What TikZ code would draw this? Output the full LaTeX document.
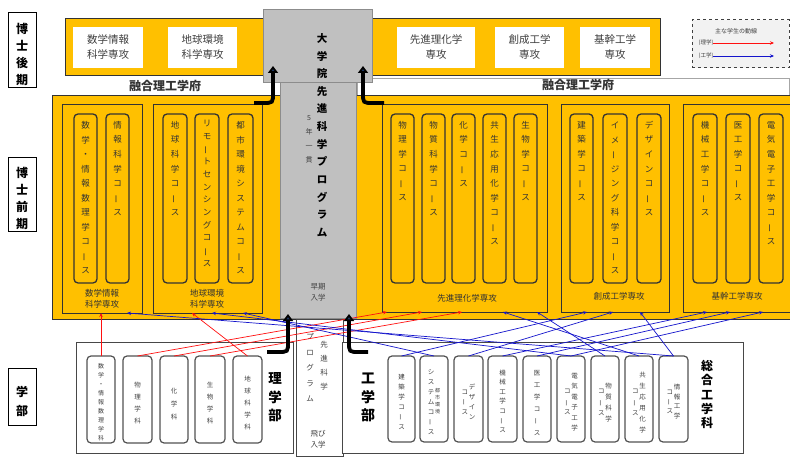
\documentclass[tikz,border=0pt]{standalone}
\usepackage{fontspec}
\setmainfont{Noto Sans CJK JP}
\usetikzlibrary{arrows.meta}
\definecolor{org}{HTML}{FFC000}
\definecolor{bd}{HTML}{333333}
\definecolor{txt}{HTML}{404040}
\definecolor{colgrey}{HTML}{C0C0C0}
\definecolor{colgreybd}{HTML}{8C8C8C}
\definecolor{rl}{HTML}{FF1010}
\definecolor{bl}{HTML}{1414CC}
\definecolor{navy}{HTML}{1F3864}
\newcommand\fs[2]{\fontsize{#1}{#2}\selectfont}
\makeatletter
\def\vt@choon{ー}
\newcommand\vt@put{\ifx\vt@c\vt@choon\rotatebox[origin=c]{90}{ー}\else\vt@c\fi}
\newcommand\vt[2][14.5]{\vbox{\offinterlineskip\@tfor\vt@c:=#2\do{\hbox to 1.05em{\hss\vrule width0pt height#1pt depth0pt\smash{\vt@put}\hss}}}}
\makeatother
\newcommand\vtwo[3][11]{$\vcenter{\hbox{\vt[#1]{#3}}}\kern0.5pt\vcenter{\hbox{\vt[#1]{#2}}}$}
\newcommand\bx[6][]{\node[#1, minimum width={#5pt-#3pt}, minimum height={#6pt-#4pt}] (#2) at ({(#3+#5)/2},{(#4+#6)/2}) {};}
\newcommand\bxt[7][]{\node[#1, minimum width={#5pt-#3pt}, minimum height={#6pt-#4pt}] (#2) at ({(#3+#5)/2},{(#4+#6)/2}) {#7};}
\begin{document}
\begin{tikzpicture}[x=1pt,y=-1pt,
 every node/.style={inner sep=0pt,outer sep=0pt},
 orgbox/.style={draw=bd, fill=org, line width=1pt},
 dept/.style={draw=bd, fill=org, line width=1pt},
 course/.style={draw=bd, fill=org, line width=1.3pt, rounded corners=4pt},
 ucourse/.style={draw=bd!85, fill=white, line width=1.2pt, rounded corners=4pt},
 wbox/.style={fill=white, align=center, text=txt, font=\fs{10.5}{15}},
 greybox/.style={fill=colgrey, draw=colgreybd, line width=0.8pt},
 lbl/.style={draw=black, line width=1pt, fill=white, text=black, font=\bfseries\fs{12}{12}},
 ctext/.style={text=bd, font=\fs{8.5}{8.5}},
 utext/.style={text=txt, font=\fs{6.5}{6.5}},
 dlabel/.style={text=bd, align=center, font=\fs{8.5}{11}},
 flabel/.style={text=bd, font=\bfseries\fs{12}{12}},
 ubox/.style={draw=bd!90, line width=1pt, fill=white},
 redl/.style={draw=rl, line width=0.7pt, -{Stealth[length=4pt,width=3.5pt]}},
 bluel/.style={draw=bl, line width=0.7pt, -{Stealth[length=4pt,width=3.5pt]}},
 bigarr/.style={line width=3.8pt, black, -{Triangle[width=10pt,length=7pt,fill=navy]}},
 legend/.style={draw=black!75, dashed, line width=1pt, fill=black!5}]
\useasboundingbox[fill=white] (0,0) rectangle (790,457);

% left level labels
\bxt[lbl]{L1}{8}{13}{36}{88}{\vt[17]{博士後期}}
\bxt[lbl]{L2}{8}{158}{36}{232}{\vt[17]{博士前期}}
\bxt[lbl]{L3}{8}{368}{36}{425}{\vt[19]{学部}}

% doctoral band
\bx[orgbox]{D}{65}{19}{660}{76}
\bxt[wbox]{D1}{73}{27}{143}{68}{数学情報\\科学専攻}
\bxt[wbox]{D2}{168}{27}{237}{68}{地球環境\\科学専攻}
\bxt[wbox]{D3}{397}{27}{475}{68}{先進理化学\\専攻}
\bxt[wbox]{D4}{495}{27}{564}{68}{創成工学\\専攻}
\bxt[wbox]{D5}{580}{27}{650}{68}{基幹工学\\専攻}

% legend
\bx[legend]{LG}{692}{20}{789}{68}
\node[text=txt, font=\fs{6}{6}] (LGt) at (736,31) {主な学生の動線};
\node[text=txt, font=\fs{5.5}{5.5}] (LGr) at (706,43) {(理学)};
\node[text=txt, font=\fs{5.5}{5.5}] (LGb) at (706,56) {(工学)};
\coordinate (LGre) at (774,43);
\coordinate (LGbe) at (774,56);
\draw[redl] (LGr.east) -- (LGre);
\draw[bluel] (LGb.east) -- (LGbe);

% white label band
\bx[draw=black!35, fill=white, line width=0.6pt]{WB}{357}{78}{789}{96}
\node[flabel] (F1) at (165,86) {融合理工学府};
\node[flabel] (F2) at (578,85) {融合理工学府};

% master level
\bx[orgbox]{M}{52}{96}{792}{319}
\bx[dept]{MA}{62}{105}{142}{313}
\bx[dept]{MB}{153}{105}{262}{313}
\bx[dept]{MC}{382}{105}{547}{312}
\bx[dept]{MD}{561}{105}{669}{312}
\bx[dept]{ME}{683}{105}{792}{312}

\bx[course]{MA1}{74}{114}{97}{283}
\bx[course]{MA2}{106}{114}{129}{283}
\bx[course]{MB1}{163}{114}{187}{283}
\bx[course]{MB2}{195}{114}{219}{283}
\bx[course]{MB3}{228}{114}{253}{283}
\bx[course]{MC1}{391}{114}{414}{283}
\bx[course]{MC2}{422}{114}{445}{283}
\bx[course]{MC3}{452}{114}{475}{283}
\bx[course]{MC4}{483}{114}{506}{283}
\bx[course]{MC5}{514}{114}{537}{283}
\bx[course]{MD1}{570}{114}{593}{283}
\bx[course]{MD2}{603}{114}{627}{283}
\bx[course]{MD3}{637}{114}{661}{283}
\bx[course]{ME1}{693}{114}{717}{283}
\bx[course]{ME2}{726}{114}{750}{283}
\bx[course]{ME3}{759}{114}{783}{283}

\node[ctext, anchor=north] (MA1t) at (MA1.north) {\vt{数学・情報数理学コース}};
\node[ctext, anchor=north] (MA2t) at (MA2.north) {\vt{情報科学コース}};
\node[ctext, anchor=north] (MB1t) at (MB1.north) {\vt{地球科学コース}};
\node[ctext, anchor=north] (MB2t) at (MB2.north) {\vt[12.7]{リモートセンシングコース}};
\node[ctext, anchor=north] (MB3t) at (MB3.north) {\vt{都市環境システムコース}};
\node[ctext, anchor=north] (MC1t) at (MC1.north) {\vt{物理学コース}};
\node[ctext, anchor=north] (MC2t) at (MC2.north) {\vt{物質科学コース}};
\node[ctext, anchor=north] (MC3t) at (MC3.north) {\vt{化学コース}};
\node[ctext, anchor=north] (MC4t) at (MC4.north) {\vt{共生応用化学コース}};
\node[ctext, anchor=north] (MC5t) at (MC5.north) {\vt{生物学コース}};
\node[ctext, anchor=north] (MD1t) at (MD1.north) {\vt{建築学コース}};
\node[ctext, anchor=north] (MD2t) at (MD2.north) {\vt{イメージング科学コース}};
\node[ctext, anchor=north] (MD3t) at (MD3.north) {\vt{デザインコース}};
\node[ctext, anchor=north] (ME1t) at (ME1.north) {\vt{機械工学コース}};
\node[ctext, anchor=north] (ME2t) at (ME2.north) {\vt{医工学コース}};
\node[ctext, anchor=north] (ME3t) at (ME3.north) {\vt{電気電子工学コース}};

\node[dlabel] (MAl) at (102,299) {数学情報\\科学専攻};
\node[dlabel] (MBl) at (207,299) {地球環境\\科学専攻};
\node[dlabel] (MCl) at (467,298) {先進理化学専攻};
\node[dlabel] (MDl) at (619,296) {創成工学専攻};
\node[dlabel] (MEl) at (737,296) {基幹工学専攻};

% grey programme column
\bx[greybox]{G2}{280}{82}{356}{318}
\bx[greybox]{G1}{263}{9}{372}{82}
\node[anchor=north, font=\bfseries\fs{10.5}{10.5}, text=black] (Gt) at (322,25) {\vt[17.6]{大学院先進科学プログラム}};
\node[font=\fs{7}{7}, text=txt] (Gy) at (309,135) {\vt[14]{5年一貫}};
\node[align=center, font=\fs{7.5}{11}, text=txt] (Ge) at (318,292) {早期\\入学};

% undergraduate level
\bx[ubox]{S}{76}{342}{293}{453}
\bx[ucourse]{S1}{87}{356}{115}{443}
\bx[ucourse]{S2}{123}{356}{152}{443}
\bx[ucourse]{S3}{160}{356}{188}{443}
\bx[ucourse]{S4}{195}{356}{225}{443}
\bx[ucourse]{S5}{233}{356}{262}{443}
\node[utext, font=\fs{6}{6}] (S1t) at (S1.center) {\vt[9]{数学・情報数理学科}};
\node[utext] (S2t) at (S2.center) {\vt[12]{物理学科}};
\node[utext] (S3t) at (S3.center) {\vt[13]{化学科}};
\node[utext] (S4t) at (S4.center) {\vt[12]{生物学科}};
\node[utext] (S5t) at (S5.center) {\vt[12]{地球科学科}};
\node[font=\bfseries\fs{13.5}{13.5}, text=black] (SL) at (275,393) {\vt[18.5]{理学部}};

\bx[ubox]{P}{296}{319}{343}{456}
\node[anchor=north, font=\fs{7.5}{7.5}, text=txt] (Pt1) at (324,333) {\vt[14]{先進科学}};
\node[anchor=north, font=\fs{7.5}{7.5}, text=txt] (Pt2) at (310,324) {\vt[15.5]{プログラム}};
\node[align=center, font=\fs{7.5}{11}, text=txt] (Pt3) at (318,439) {飛び\\入学};

\bx[ubox]{E}{342}{342}{743}{453}
\bx[ucourse]{E1}{388}{356}{415}{442}
\bx[ucourse]{E2}{420}{356}{448}{442}
\bx[ucourse]{E3}{454}{356}{483}{442}
\bx[ucourse]{E4}{488}{356}{517}{442}
\bx[ucourse]{E5}{523}{356}{551}{442}
\bx[ucourse]{E6}{557}{356}{585}{442}
\bx[ucourse]{E7}{591}{356}{619}{442}
\bx[ucourse]{E8}{625}{356}{653}{442}
\bx[ucourse]{E9}{659}{356}{688}{442}
\node[utext] (E1t) at (E1.center) {\vt[10]{建築学コース}};
\node[utext] (E2t) at (E2.center) {$\vcenter{\hbox{\vt[10]{システムコース}}}\kern0.5pt\vcenter{\hbox{\fs{5}{5}\vt[7]{都市環境}}}$};
\node[utext] (E3t) at (E3.center) {\vtwo[10]{デザイン}{コース}};
\node[utext] (E4t) at (E4.center) {\vt[9.5]{機械工学コース}};
\node[utext] (E5t) at (E5.center) {\vt[12]{医工学コース}};
\node[utext] (E6t) at (E6.center) {\vtwo[10.5]{電気電子工学}{コース}};
\node[utext] (E7t) at (E7.center) {\vtwo[11]{物質科学}{コース}};
\node[utext] (E8t) at (E8.center) {\vtwo[11]{共生応用化学}{コース}};
\node[utext] (E9t) at (E9.center) {\vtwo[9.5]{情報工学}{コース}};
\node[font=\bfseries\fs{14}{14}, text=black] (EL) at (368,393) {\vt[18.5]{工学部}};
\node[font=\bfseries\fs{12}{12}, text=black] (EL2) at (707,392) {\vt[14.3]{総合工学科}};

% science flows
\draw[redl] (S1.north) -- (S1.north |- MA.south);
\draw[redl] (S5.north) -- ([xshift=39pt]MB.south west);
\draw[redl] (S2.north) -- ([xshift=5pt]MC.south west);
\draw[redl] (S3.north) -- ([xshift=40pt]MC.south west);
\draw[redl] (S4.north) -- ([xshift=80pt]MC.south west);

% engineering flows
\draw[bluel] (E9.north) -- ([xshift=65pt]MA.south west);
\draw[bluel] (E6.north) -- ([xshift=59pt]MB.south west);
\draw[bluel] (E2.north) -- ([xshift=90pt]MB.south west);
\draw[bluel] (E8.north) -- ([xshift=121pt]MC.south west);
\draw[bluel] (E7.north) -- ([xshift=155pt]MC.south west);
\draw[bluel] (E1.north) -- ([xshift=26pt]MD.south west);
\draw[bluel] (E3.north) -- ([xshift=52pt]MD.south west);
\draw[bluel] (E9.north) -- ([xshift=79pt]MD.south west);
\draw[bluel] (E4.north) -- ([xshift=24pt]ME.south west);
\draw[bluel] (E5.north) -- ([xshift=47pt]ME.south west);
\draw[bluel] (E6.north) -- ([xshift=80pt]ME.south west);

% thick entry arrows
\coordinate (A1s) at (254,103); \coordinate (A1e) at (273,66);
\coordinate (A2s) at (384,103); \coordinate (A2e) at (363,66);
\coordinate (A3s) at (267,352); \coordinate (A3e) at (288,314);
\coordinate (A4s) at (368,352); \coordinate (A4e) at (349,314);
\draw[bigarr] (A1s) -- (263,103) .. controls (273,103) .. (273,93) -- (A1e);
\draw[bigarr] (A2s) -- (373,103) .. controls (363,103) .. (363,93) -- (A2e);
\draw[bigarr] (A3s) -- (278,352) .. controls (288,352) .. (288,342) -- (A3e);
\draw[bigarr] (A4s) -- (359,352) .. controls (349,352) .. (349,342) -- (A4e);
\end{tikzpicture}
\end{document}
